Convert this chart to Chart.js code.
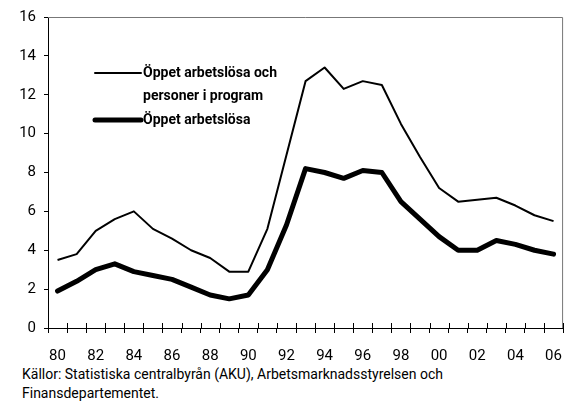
<!DOCTYPE html>
<html lang="sv">
  <head>
    <meta charset="UTF-8" />
    <title>Arbetslöshet</title>
    <script src="https://cdn.jsdelivr.net/npm/chart.js"></script>
    <style>
      body { margin: 0; background: #fff; }
      #wrap { position: relative; width: 576px; height: 360px; }
      #caption {
        padding: 5px 0 0 22px;
        font-family: Roboto, "DejaVu Sans", sans-serif;
        font-size: 14px;
        line-height: 19px;
        color: #000;
      }
    </style>
  </head>
  <body>
    <div id="wrap"><canvas id="chart"></canvas></div>
    <div id="caption">
      Källor: Statistiska centralbyrån (AKU), Arbetsmarknadsstyrelsen och<br />
      Finansdepartementet.
    </div>

    <script>
      const FONT = 'Roboto, "DejaVu Sans", sans-serif';

      // år 1980-2006
      const years = ["80", "81", "82", "83", "84", "85", "86", "87", "88", "89",
        "90", "91", "92", "93", "94", "95", "96", "97", "98", "99",
        "00", "01", "02", "03", "04", "05", "06"];

      // Öppet arbetslösa och personer i program
      const totalValues = [3.5, 3.8, 5.0, 5.6, 6.0, 5.1, 4.6, 4.0, 3.6, 2.9,
        2.9, 5.1, 8.9, 12.7, 13.4, 12.3, 12.7, 12.5, 10.5, 8.8,
        7.2, 6.5, 6.6, 6.7, 6.3, 5.8, 5.5];

      // Öppet arbetslösa
      const openValues = [1.9, 2.4, 3.0, 3.3, 2.9, 2.7, 2.5, 2.1, 1.7, 1.5,
        1.7, 3.0, 5.3, 8.2, 8.0, 7.7, 8.1, 8.0, 6.5, 5.6,
        4.7, 4.0, 4.0, 4.5, 4.3, 4.0, 3.8];

      const legendLabels = [["Öppet arbetslösa och", "personer i program"], ["Öppet arbetslösa"]];

      // grå ram upptill och till höger, plus skalstreck som korsar x-axeln
      const framePlugin = {
        id: "frame",
        beforeDatasetsDraw(chart) {
          const { ctx, chartArea: a } = chart;
          ctx.save();
          ctx.strokeStyle = "#777";
          ctx.lineWidth = 1;
          ctx.beginPath();
          ctx.moveTo(a.left, a.top + 0.5);
          ctx.lineTo(a.right - 0.5, a.top + 0.5);
          ctx.lineTo(a.right - 0.5, a.bottom);
          ctx.stroke();

          const x = chart.scales.x;
          const half = (x.getPixelForValue(1) - x.getPixelForValue(0)) / 2;
          ctx.strokeStyle = "#000";
          ctx.beginPath();
          for (let i = 0; i <= years.length; i++) {
            const px = Math.round(x.getPixelForValue(i) - half) + 0.5;
            ctx.moveTo(px, a.bottom);
            ctx.lineTo(px, a.bottom - 5);
          }
          ctx.stroke();
          ctx.restore();
        },
        afterDraw(chart) {
          const { ctx, chartArea: a } = chart;
          const x0 = a.left + 47;
          const x1 = a.left + 93;
          ctx.save();
          ctx.font = "bold 14px " + FONT;
          ctx.fillStyle = "#000";
          ctx.textBaseline = "middle";
          ctx.lineCap = "round";
          // tunn linje
          ctx.lineWidth = 2;
          ctx.beginPath();
          ctx.moveTo(x0, a.top + 56);
          ctx.lineTo(x1, a.top + 56);
          ctx.stroke();
          ctx.fillText(legendLabels[0][0], x1 + 2, a.top + 56);
          ctx.fillText(legendLabels[0][1], x1 + 2, a.top + 79);
          // tjock linje
          ctx.lineWidth = 5;
          ctx.beginPath();
          ctx.moveTo(x0, a.top + 103);
          ctx.lineTo(x1, a.top + 103);
          ctx.stroke();
          ctx.fillText(legendLabels[1][0], x1 + 2, a.top + 103);
          ctx.restore();
        },
      };

      const ctx = document.getElementById("chart").getContext("2d");
      const chart = new Chart(ctx, {
        type: "line",
        data: {
          labels: years,
          datasets: [
            {
              label: legendLabels[0].join(" "),
              data: totalValues,
              borderColor: "#000",
              borderWidth: 2,
              pointRadius: 0,
              tension: 0,
              borderJoinStyle: "round",
            },
            {
              label: legendLabels[1][0],
              data: openValues,
              borderColor: "#000",
              borderWidth: 5,
              pointRadius: 0,
              tension: 0,
              borderJoinStyle: "round",
              borderCapStyle: "round",
            },
          ],
        },
        options: {
          responsive: true,
          maintainAspectRatio: false,
          animation: false,
          layout: { padding: { top: 16, right: 1, left: 0, bottom: 0 } },
          plugins: {
            legend: { display: false },
            tooltip: { enabled: false },
          },
          scales: {
            x: {
              type: "category",
              offset: true,
              afterFit: (s) => { s.height = 32; },
              grid: {
                offset: true,
                drawOnChartArea: false,
                drawTicks: true,
                tickLength: 5,
                color: "#000",
              },
              border: { color: "#000", width: 1 },
              ticks: {
                autoSkip: false,
                maxRotation: 0,
                padding: 14,
                color: "#000",
                font: { family: FONT, size: 15 },
                callback: (v, i) => (i % 2 === 0 ? years[i] : ""),
              },
            },
            y: {
              min: 0,
              max: 16,
              afterFit: (s) => { s.width = 48; },
              grid: {
                drawOnChartArea: false,
                tickLength: 4,
                color: "#000",
              },
              border: { color: "#000", width: 1 },
              ticks: {
                stepSize: 2,
                padding: 8,
                color: "#000",
                font: { family: FONT, size: 15 },
              },
            },
          },
        },
        plugins: [framePlugin],
      });
    </script>
  </body>
</html>
